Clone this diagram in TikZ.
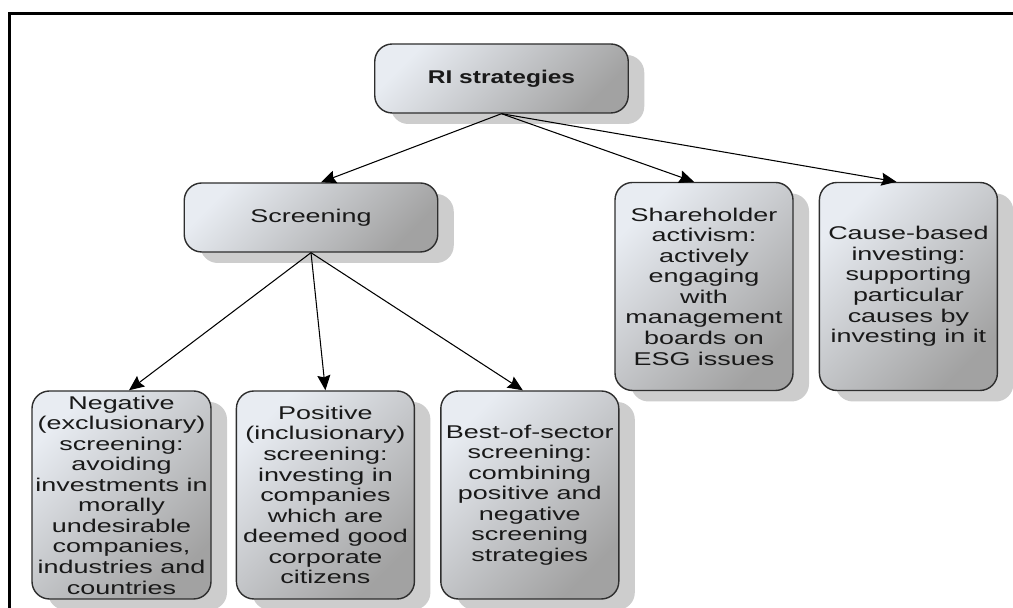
\documentclass[tikz,border=0pt]{standalone}
\usepackage{fontspec}
\setmainfont{Liberation Sans}[FakeStretch=1.46,BoldFeatures={FakeStretch=1.33}]
\usepackage{tikz}
\usetikzlibrary{arrows.meta,positioning,shadows}
\definecolor{boxlight}{HTML}{E8ECF2}
\definecolor{boxdark}{HTML}{A2A2A2}
\definecolor{boxline}{HTML}{2E2E2E}
\definecolor{boxshadow}{HTML}{CDCDCD}

\begin{document}
\begin{tikzpicture}[->,>={Stealth[length=3mm,width=2.6mm,inset=0.4mm]},semithick,font=\fontsize{10.5}{11.7}\selectfont]
                \tikzstyle{strategy}=[draw=boxline,line width=0.8pt,rounded corners=0.35cm,top color=boxlight,bottom color=boxdark,shading angle=45,align=center,inner xsep=0.5pt,inner ysep=1pt,text=black!90,drop shadow={shadow xshift=0.32cm,shadow yshift=-0.22cm,fill=boxshadow,opacity=1}]
                \tikzstyle{wide}=[strategy,minimum width=5.07cm,minimum height=1.38cm]
                \tikzstyle{tall}=[strategy,minimum width=3.56cm,minimum height=4.16cm]

                \useasboundingbox (0,0) rectangle (20.26,12.16);
                % frame of the page
                \draw[-,line width=0.06cm] (0.19,-0.3) -- (0.19,11.89) -- (20.6,11.89);

                \node[wide] (ri) at (10.03,10.59) {\textbf{RI strategies}};
                \node[wide] (screen) at (6.22,7.81) {Screening};

                \node[tall] (share) at (14.08,6.43) {Shareholder\\activism:\\actively\\engaging\\with\\management\\boards on\\ESG issues};
                \node[tall] (cause) [right=0.5cm of share] {Cause-based\\investing:\\supporting\\particular\\causes by\\investing in it};

                \node[tall,minimum width=3.58cm] (neg) at (2.43,2.26) {Negative\\(exclusionary)\\screening:\\avoiding\\investments in\\morally\\undesirable\\companies,\\industries and\\countries};
                \node[tall] (pos) [right=0.48cm of neg] {Positive\\(inclusionary)\\screening:\\investing in\\companies\\which are\\deemed good\\corporate\\citizens};
                \node[tall] (best) [right=0.5cm of pos] {Best-of-sector\\screening:\\combining\\positive and\\negative\\screening\\strategies};

                \path (ri.south) edge ([xshift=0.2cm]screen.north);
                \path (ri.south) edge ([xshift=-0.2cm]share.north);
                \path (ri.south) edge ([xshift=-0.24cm]cause.north);
                \path (screen.south) edge ([xshift=0.15cm]neg.north);
                \path (screen.south) edge (pos.north);
                \path (screen.south) edge ([xshift=-0.14cm]best.north);
\end{tikzpicture}
\end{document}
